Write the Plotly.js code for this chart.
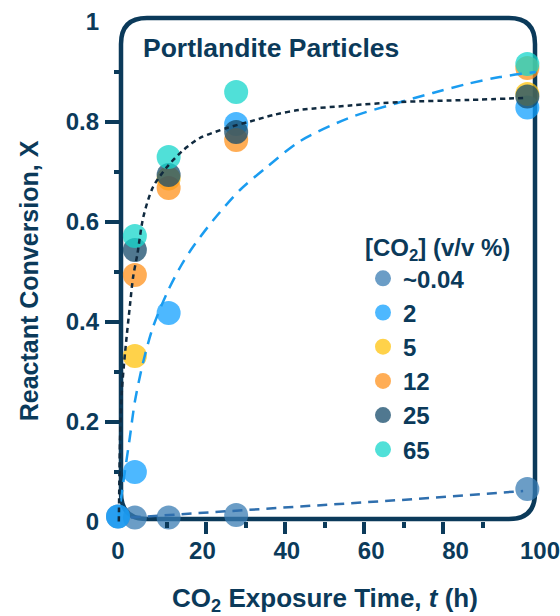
<!DOCTYPE html>
<html>
<head>
<meta charset="utf-8">
<script src="https://cdn.plot.ly/plotly-3.0.1.min.js"></script>
<style>html,body{margin:0;padding:0;background:#fff;}#chart{width:560px;height:616px;}</style>
</head>
<body>
<div id="chart"></div>
<script>
// ---- data ----
const seriesNames = ["~0.04", "2", "5", "12", "25", "65"];
const t_004 = [0, 4, 12, 28, 97];
const x_004 = [0.010, 0.008, 0.008, 0.013, 0.065];
const t_2 = [0, 4, 12, 28, 97];
const x_2 = [0.010, 0.099, 0.417, 0.795, 0.828];
const t_5 = [4, 12, 97];
const x_5 = [0.331, 0.686, 0.855];
const t_12 = [4, 12, 28, 97];
const x_12 = [0.493, 0.667, 0.763, 0.907];
const t_25 = [4, 12, 28, 97];
const x_25 = [0.543, 0.693, 0.779, 0.850];
const t_65 = [4, 12, 28, 97];
const x_65 = [0.571, 0.729, 0.859, 0.915];
// fitted curves
const fitHi_t = [0.2, 0.5, 0.9, 1.7, 2.8, 3.6, 4.6, 6, 8.3, 11.6, 15.5, 19.4, 25.8, 31.3, 36.8, 43, 55, 67, 83, 96];
const fitHi_x = [0.0, 0.17, 0.26, 0.34, 0.43, 0.49, 0.535, 0.609, 0.669, 0.709, 0.743, 0.767, 0.787, 0.800, 0.813, 0.823, 0.832, 0.839, 0.843, 0.847];
const fit2_t = [0, 1.2, 2.8, 4, 6, 8.3, 11.6, 14.7, 17.5, 22.6, 28.9, 35.3, 43, 55, 67, 74.6, 82.7, 90.5, 99];
const fit2_x = [0.0, 0.075, 0.168, 0.240, 0.320, 0.389, 0.457, 0.508, 0.546, 0.603, 0.663, 0.709, 0.760, 0.808, 0.839, 0.857, 0.875, 0.889, 0.899];
const fitAir_t = [3, 28, 50, 67, 96];
const fitAir_x = [0.008, 0.022, 0.033, 0.043, 0.061];
const xTickVals = [0, 20, 40, 60, 80, 100];
const yTickVals = [0, 0.2, 0.4, 0.6, 0.8, 1];
const yTickText = ["0", "0.2", "0.4", "0.6", "0.8", "1"];

// ---- styling / layout geometry ----
const NAVY = "#0b3a5a";
const colors = ["#397cb3", "#11a0ff", "#ffc30d", "#ff911c", "#154b6b", "#15d5cb"];
const FONT = "Liberation Sans, Arial, sans-serif";
const W = 560, H = 616;
const M = {l: 100, r: 10, t: 8, b: 62};
const PX0 = M.l, PX1 = W - M.r, PY0 = M.t, PY1 = H - M.b;
const X0PX = 118, XS = 4.22, Y0PX = 521.5, YS = 500;
const xv = px => (px - X0PX) / XS;
const yv = py => (Y0PX - py) / YS;
const pfx = px => (px - PX0) / (PX1 - PX0);
const pfy = py => (PY1 - py) / (PY1 - PY0);
// tick marks of the reference sit on a slightly different scale
const TK0 = 127, TKS = 3.95;
const xv2 = px => (px - TK0) / TKS;

const ts = [t_004, t_2, t_5, t_12, t_25, t_65];
const xs = [x_004, x_2, x_5, x_12, x_25, x_65];
const traces = [];
for (let i = 0; i < seriesNames.length; i++) {
  traces.push({
    type: "scatter", mode: "markers", name: seriesNames[i],
    x: ts[i], y: xs[i], cliponaxis: false,
    marker: {size: 24, color: colors[i], opacity: 0.75, line: {width: 0}}
  });
}
traces.push({type: "scatter", mode: "lines", x: fitAir_t, y: fitAir_x, showlegend: false,
  line: {color: "#2f6fae", width: 2.5, dash: "10px,7px"}});
traces.push({type: "scatter", mode: "lines", x: fit2_t, y: fit2_x, showlegend: false,
  line: {color: "#1a9cf0", width: 2.5, dash: "12px,8px", shape: "spline", smoothing: 0.8}});
traces.push({type: "scatter", mode: "lines", x: fitHi_t, y: fitHi_x, showlegend: false,
  line: {color: "#102a3f", width: 2.5, dash: "5px,4px", shape: "spline", smoothing: 0.8}});
// tick-mark carrier (invisible)
traces.push({type: "scatter", mode: "markers", x: [50], y: [0.5], xaxis: "x2", yaxis: "y2",
  showlegend: false, hoverinfo: "skip", marker: {opacity: 0}});

// rounded frame
const xL = xv(121), xR = xv(535), yT = yv(18), yB = yv(519);
const rx = 26 / XS, ry = 26 / YS;
const framePath =
  `M ${xL + rx},${yT} L ${xR - rx},${yT} Q ${xR},${yT} ${xR},${yT - ry} ` +
  `L ${xR},${yB + ry} Q ${xR},${yB} ${xR - rx},${yB} ` +
  `L ${xL + rx},${yB} Q ${xL},${yB} ${xL},${yB + ry} ` +
  `L ${xL},${yT - ry} Q ${xL},${yT} ${xL + rx},${yT} Z`;

const layout = {
  width: W, height: H, margin: M,
  paper_bgcolor: "#fff", plot_bgcolor: "rgba(0,0,0,0)",
  font: {family: FONT, color: NAVY, size: 24},
  showlegend: true,
  xaxis: {
    range: [xv(PX0), xv(PX1)], anchor: "free", position: pfy(519),
    showgrid: false, zeroline: false, showline: false,
    tickvals: xTickVals, ticks: "", ticklabelstandoff: 15, ticklabeloverflow: "allow",
    tickfont: {family: FONT, size: 24, color: NAVY, weight: "bold"},
    title: {text: "CO<sub>2</sub> Exposure Time, <i>t</i> (h)", standoff: 26,
      font: {family: FONT, size: 26, color: NAVY, weight: "bold"}}
  },
  yaxis: {
    range: [yv(PY1), yv(PY0)], anchor: "free", position: pfx(121),
    showgrid: false, zeroline: false, showline: false,
    tickvals: yTickVals, ticktext: yTickText, ticks: "", ticklabelstandoff: 22,
    tickfont: {family: FONT, size: 24, color: NAVY, weight: "bold"},
    title: {text: "Reactant Conversion, X", standoff: 18,
      font: {family: FONT, size: 25, color: NAVY, weight: "bold"}}
  },
  xaxis2: {
    overlaying: "x", range: [xv2(PX0), xv2(PX1)], anchor: "free", position: pfy(521),
    showgrid: false, zeroline: false, showline: false, showticklabels: false,
    tickvals: [20, 40, 60, 80], ticks: "outside", ticklen: 12, tickwidth: 4, tickcolor: NAVY,
    minor: {tickvals: [10, 30, 50, 70, 90], ticks: "outside", ticklen: 6, tickwidth: 4, tickcolor: NAVY}
  },
  yaxis2: {
    overlaying: "y", range: [yv(PY1), yv(PY0)], anchor: "free", position: pfx(119),
    showgrid: false, zeroline: false, showline: false, showticklabels: false,
    tickvals: [0.2, 0.4, 0.6, 0.8], ticks: "outside", ticklen: 14, tickwidth: 4, tickcolor: NAVY,
    minor: {tickvals: [0.1, 0.3, 0.5, 0.7, 0.9], ticks: "outside", ticklen: 5, tickwidth: 4, tickcolor: NAVY}
  },
  shapes: [{type: "path", xref: "x", yref: "y", path: framePath, layer: "below",
    line: {color: NAVY, width: 4.5}, fillcolor: "rgba(0,0,0,0)"}],
  annotations: [{xref: "paper", yref: "paper", x: pfx(141), y: pfy(48), xanchor: "left", yanchor: "middle",
    text: "Portlandite Particles", showarrow: false,
    font: {family: FONT, size: 26.5, color: NAVY, weight: "bold"}}],
  legend: {
    x: pfx(363), y: pfy(225), xanchor: "left", yanchor: "top",
    bgcolor: "rgba(0,0,0,0)", borderwidth: 0, tracegroupgap: 0,
    font: {family: FONT, size: 24, color: NAVY, weight: "bold"},
    title: {text: "[CO<sub>2</sub>] (v/v %)", side: "top",
      font: {family: FONT, size: 24, color: NAVY, weight: "bold"}}
  }
};

Plotly.newPlot("chart", traces, layout, {displayModeBar: false, staticPlot: true});
</script>
</body>
</html>
